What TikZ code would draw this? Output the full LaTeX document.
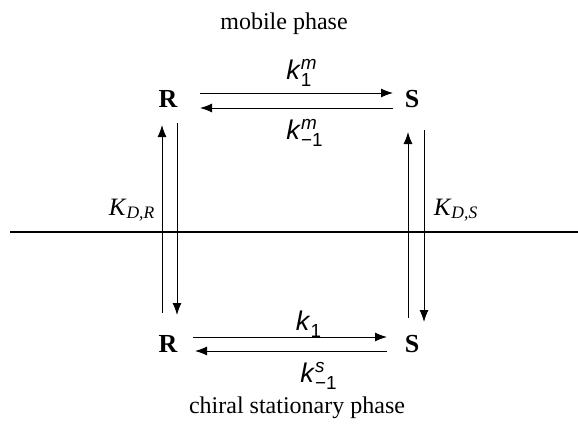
\documentclass[tikz,border=0pt]{standalone}
\usepackage{amsmath}
\usepackage{fontspec}
\setmainfont{Liberation Serif}
\newfontfamily\ratefont{Liberation Sans}
\usetikzlibrary{arrows}
\usetikzlibrary{arrows.meta}
\newcommand{\rk}[2]{\textit{k}$^{\text{\textit{#2}}}_{\text{#1}}$}
\newcommand{\KD}[1]{\textit{K}\textsubscript{\textit{D,#1}}}

\begin{document}
\begin{tikzpicture}[x=0.5pt,y=-0.5pt]
\tikzstyle{every node}=[inner sep=0pt,font=\fontsize{12.5}{14}\selectfont]
\tikzstyle{species}=[font=\fontsize{13}{15}\selectfont\bfseries]
\tikzstyle{phase}=[font=\fontsize{12}{14}\selectfont]
\tikzstyle{rate}=[font=\fontsize{13.5}{16}\selectfont\ratefont]
\tikzstyle{flux}=[line width=0.5pt,arrows={-Latex[length=6pt,width=4.5pt]}]
\useasboundingbox (0,0) rectangle (578,429);
\node[phase] (mob) at (284,24) {mobile phase};
\node[phase] (stat) at (297,408) {chiral stationary phase};
\node[species] (Rm) at (168,99) {R};
\node[species] (Sm) at (412,99) {S};
\node[species] (Rs) at (168,344) {R};
\node[species] (Ss) at (412,344) {S};
\coordinate (wall) at (10,232);
\coordinate (wallend) at (578,232);
\draw[line width=1.4pt] (wall) -- (wallend);
% mobile phase exchange
\draw[flux] ([shift={(32,-6)}]Rm.center) -- ([shift={(-19,-6)}]Sm.center);
\draw[flux] ([shift={(-19,9)}]Sm.center) -- ([shift={(32,9)}]Rm.center);
% stationary phase exchange
\draw[flux] ([shift={(25,-7)}]Rs.center) -- ([shift={(-25,-7)}]Ss.center);
\draw[flux] ([shift={(-25,7)}]Ss.center) -- ([shift={(27,7)}]Rs.center);
% partition between phases
\draw[flux] ([shift={(-6,-31)}]Rs.center) -- ([shift={(-6,26)}]Rm.center);
\draw[flux] ([shift={(9,24)}]Rm.center) -- ([shift={(9,-29)}]Rs.center);
\draw[flux] ([shift={(-4,-26)}]Ss.center) -- ([shift={(-4,33)}]Sm.center);
\draw[flux] ([shift={(12,31)}]Sm.center) -- ([shift={(12,-22)}]Ss.center);
\node[rate] (k1m) at (302,73) {\rk{1}{m}};
\node[rate] (km1m) at (305,133) {\rk{−1}{m}};
\node[rate] (k1s) at (309,324) {\rk{1}{}};
\node[rate] (km1s) at (319,376) {\rk{−1}{s}};
\node (KDR) at (132,210) {\KD{R}};
\node (KDS) at (456,210) {\KD{S}};
\end{tikzpicture}
\end{document}
